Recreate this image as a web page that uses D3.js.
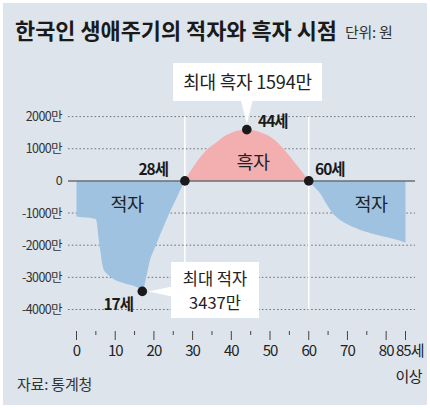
<!DOCTYPE html>
<html>
<head>
<meta charset="utf-8">
<script src="https://cdn.jsdelivr.net/npm/d3@7"></script>
<style>
  html, body { margin: 0; padding: 0; background: #ffffff; }
  svg { display: block; font-family: "Noto Sans CJK KR", "Noto Sans", sans-serif; }
</style>
</head>
<body>
<svg id="svg"></svg>
<script>

// ages 0 .. 85 (85 = 85세 이상)
const ages = d3.range(0, 86);

// 생애주기 적자(-) / 흑자(+), 단위: 만원
const balance = [
    -1110, -1120, -1130, -1140, -1160, -1190, -2050, -2750, -2900, -3000,
    -3080, -3130, -3170, -3210, -3240, -3280, -3330, -3437, -3000, -2450,
    -2150, -1850, -1560, -1280, -1000, -740, -490, -240, 0, 220,
    400, 580, 740, 880, 1000, 1100, 1190, 1280, 1370, 1440,
    1500, 1545, 1570, 1588, 1594, 1585, 1565, 1535, 1490, 1440,
    1375, 1290, 1190, 1060, 920, 780, 630, 480, 320, 160,
    0, -130, -260, -400, -600, -800, -980, -1110, -1210, -1290,
    -1350, -1410, -1460, -1510, -1550, -1590, -1625, -1660, -1690, -1720,
    -1745, -1775, -1805, -1840, -1875, -1915
];

const yTicks = [2000, 1000, 0, -1000, -2000, -3000, -4000];
const yTickLabels = ["2000만", "1000만", "0", "-1000만", "-2000만", "-3000만", "-4000만"];
const xMajorTicks = [0, 10, 20, 30, 40, 50, 60, 70, 80, 85];
const xMinorTicks = [5, 15, 25, 35, 45, 55, 65, 75];
const crossAges = [28, 60];
const peakAge = 44;
const troughAge = 17;

const width = 430;
const height = 410;

let svg = d3.select("#svg");
let xScale;
let yScale;

function initialiseSVG() {
    svg.attr("width", width).attr("height", height);
    svg.selectAll("*").remove();

    xScale = d3.scaleLinear().domain([0, 85]).range([76.5, 405.5]);
    yScale = d3.scaleLinear().domain([-4000, 2000]).range([309.5, 116.6]);

    // background panel
    svg.append("rect")
        .attr("x", 3).attr("y", 3)
        .attr("width", 424).attr("height", 402)
        .attr("fill", "#dde4eb");
}

function drawGrid() {
    const gx0 = 68, gx1 = 415;

    svg.append("g").selectAll("line")
        .data(yTicks.filter(d => d !== 0))
        .enter().append("line")
        .attr("x1", gx0).attr("x2", gx1)
        .attr("y1", d => yScale(d)).attr("y2", d => yScale(d))
        .attr("stroke", "#6f737a")
        .attr("stroke-width", 1)
        .attr("stroke-dasharray", "1.6,2.2");

    svg.append("g").selectAll("text")
        .data(yTicks)
        .enter().append("text")
        .attr("x", 62)
        .attr("y", d => yScale(d) + 4.5)
        .attr("text-anchor", "end")
        .style("font-size", "12.5px")
        .style("letter-spacing", "-0.6px")
        .style("fill", "#333")
        .text((d, i) => yTickLabels[i]);

    // white guides at the crossing ages
    svg.append("g").selectAll("line")
        .data(crossAges)
        .enter().append("line")
        .attr("x1", d => xScale(d)).attr("x2", d => xScale(d))
        .attr("y1", yScale(2000)).attr("y2", yScale(-4000))
        .attr("stroke", "#ffffff")
        .attr("stroke-width", 1.5);
}

function drawArea() {
    const zero = yScale(0);
    let defs = svg.append("defs");
    defs.append("clipPath").attr("id", "clip-pos")
        .append("rect").attr("x", 0).attr("y", 0).attr("width", width).attr("height", zero);
    defs.append("clipPath").attr("id", "clip-neg")
        .append("rect").attr("x", 0).attr("y", zero).attr("width", width).attr("height", height - zero);

    let area = d3.area()
        .x((d, i) => xScale(ages[i]))
        .y0(zero)
        .y1(d => yScale(d))
        .curve(d3.curveMonotoneX);

    svg.append("path")
        .datum(balance)
        .attr("d", area)
        .attr("fill", "#9fc2e1")
        .attr("clip-path", "url(#clip-neg)");

    svg.append("path")
        .datum(balance)
        .attr("d", area)
        .attr("fill", "#f3aeb0")
        .attr("clip-path", "url(#clip-pos)");

    // zero line
    svg.append("line")
        .attr("x1", 68).attr("x2", 415)
        .attr("y1", zero).attr("y2", zero)
        .attr("stroke", "#6a6e74")
        .attr("stroke-width", 1.5);
}

function drawXAxis() {
    let axis = svg.append("g").attr("transform", "translate(0,331)");

    axis.selectAll(".major")
        .data(xMajorTicks)
        .enter().append("line")
        .attr("class", "major")
        .attr("x1", d => xScale(d)).attr("x2", d => xScale(d))
        .attr("y1", 0).attr("y2", 9)
        .attr("stroke", "#444").attr("stroke-width", 1);

    axis.selectAll(".minor")
        .data(xMinorTicks)
        .enter().append("line")
        .attr("class", "minor")
        .attr("x1", d => xScale(d)).attr("x2", d => xScale(d))
        .attr("y1", 0).attr("y2", 4)
        .attr("stroke", "#444").attr("stroke-width", 1);

    axis.selectAll("text")
        .data(xMajorTicks)
        .enter().append("text")
        .attr("x", d => d === 85 ? xScale(d) - 9.5 : xScale(d))
        .attr("y", 25)
        .attr("text-anchor", d => d === 85 ? "start" : "middle")
        .style("font-size", "15px")
        .style("letter-spacing", "-1px")
        .style("fill", "#222")
        .text(d => d === 85 ? "85세" : d);

    axis.append("text")
        .attr("x", 422).attr("y", 51)
        .attr("text-anchor", "end")
        .style("font-size", "15px")
        .style("letter-spacing", "-0.5px")
        .style("fill", "#222")
        .text("이상");
}

function drawAnnotations() {
    // area labels
    const areaLabels = [
        { t: "흑자", x: 253, y: 169 },
        { t: "적자", x: 127, y: 211 },
        { t: "적자", x: 371, y: 211 }
    ];
    svg.append("g").selectAll("text")
        .data(areaLabels)
        .enter().append("text")
        .attr("x", d => d.x).attr("y", d => d.y)
        .attr("text-anchor", "middle")
        .style("font-size", "18.5px")
        .style("letter-spacing", "-0.5px")
        .style("fill", "#222")
        .text(d => d.t);

    // callout: max surplus
    const px = xScale(peakAge), py = yScale(balance[peakAge]);
    svg.append("rect")
        .attr("x", 173).attr("y", 63).attr("width", 149).attr("height", 38)
        .attr("fill", "#ffffff");
    svg.append("path")
        .attr("d", `M${px - 6},100 L${px + 6},100 L${px},${py - 6} Z`)
        .attr("fill", "#ffffff");
    svg.append("text")
        .attr("x", 247.5).attr("y", 89)
        .attr("text-anchor", "middle")
        .style("font-size", "18px")
        .style("letter-spacing", "-0.2px")
        .style("fill", "#222")
        .text("최대 흑자 1594만");

    // callout: max deficit
    const tx = xScale(troughAge), ty = yScale(balance[troughAge]);
    svg.append("rect")
        .attr("x", 171).attr("y", 262).attr("width", 88).attr("height", 56)
        .attr("fill", "#ffffff");
    svg.append("path")
        .attr("d", `M${tx + 6},${ty} L172,${ty - 5} L172,${ty + 5} Z`)
        .attr("fill", "#ffffff");
    svg.append("text")
        .attr("x", 215).attr("y", 285)
        .attr("text-anchor", "middle")
        .style("font-size", "16.5px")
        .style("fill", "#222")
        .text("최대 적자");
    svg.append("text")
        .attr("x", 215).attr("y", 308.5)
        .attr("text-anchor", "middle")
        .style("font-size", "16.5px")
        .style("fill", "#222")
        .text("3437만");

    // dots
    const dotAges = [troughAge, crossAges[0], peakAge, crossAges[1]];
    svg.append("g").selectAll("circle")
        .data(dotAges)
        .enter().append("circle")
        .attr("cx", d => xScale(d))
        .attr("cy", d => yScale(balance[d]))
        .attr("r", 4.8)
        .attr("fill", "#1a1a1a");

    // age labels
    const ageLabels = [
        { t: "28세", x: 168, y: 175, a: "end" },
        { t: "60세", x: 315, y: 175, a: "start" },
        { t: "44세", x: 258, y: 127, a: "start" },
        { t: "17세", x: 133, y: 310, a: "end" }
    ];
    svg.append("g").selectAll("text")
        .data(ageLabels)
        .enter().append("text")
        .attr("x", d => d.x).attr("y", d => d.y)
        .attr("text-anchor", d => d.a)
        .style("font-size", "15.5px")
        .style("font-weight", "bold")
        .style("letter-spacing", "-1px")
        .style("fill", "#1a1a1a")
        .text(d => d.t);
}

function drawTitle() {
    svg.append("text")
        .attr("x", 15).attr("y", 39)
        .attr("textLength", 322)
        .attr("lengthAdjust", "spacingAndGlyphs")
        .style("font-size", "22px")
        .style("font-weight", "bold")
        .style("fill", "#1a1a1a")
        .text("한국인 생애주기의 적자와 흑자 시점");

    svg.append("text")
        .attr("x", 345).attr("y", 38)
        .style("font-size", "15px")
        .style("letter-spacing", "-0.3px")
        .style("fill", "#333")
        .text("단위: 원");

    svg.append("text")
        .attr("x", 17).attr("y", 390)
        .style("font-size", "15px")
        .style("letter-spacing", "-0.2px")
        .style("fill", "#333")
        .text("자료: 통계청");
}

function initialise() {
    initialiseSVG();
    drawGrid();
    drawArea();
    drawXAxis();
    drawAnnotations();
    drawTitle();
}

initialise();
</script>
</body>
</html>
